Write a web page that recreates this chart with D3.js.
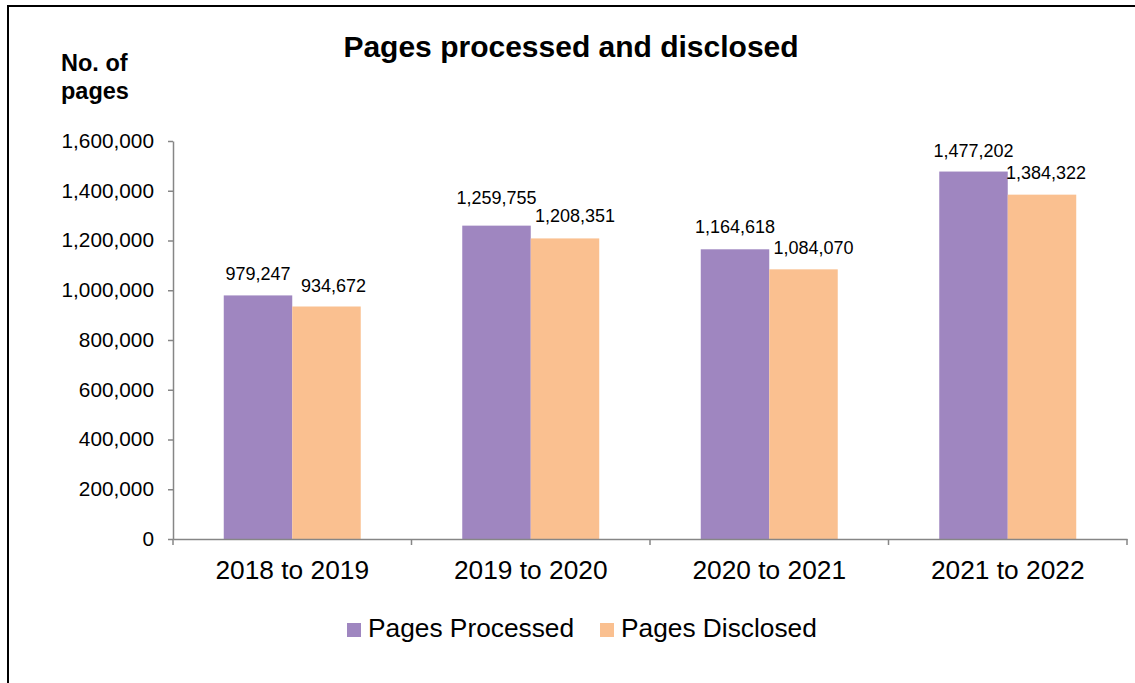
<!DOCTYPE html>
<html>
<head>
<meta charset="utf-8">
<script src="https://cdn.jsdelivr.net/npm/d3@7"></script>
<style>
  html, body { margin: 0; padding: 0; background: #fff; }
  svg { display: block; font-family: Arial, "Liberation Sans", sans-serif; }
</style>
</head>
<body>
<svg id="chart" width="1135" height="683"></svg>
<script>
// Reporting periods and page counts
const categories = ["2018 to 2019", "2019 to 2020", "2020 to 2021", "2021 to 2022"];
const seriesNames = ["Pages Processed", "Pages Disclosed"];
const pagesProcessed = [979247, 1259755, 1164618, 1477202];
const pagesDisclosed = [934672, 1208351, 1084070, 1384322];
const yTicks = [0, 200000, 400000, 600000, 800000, 1000000, 1200000, 1400000, 1600000];

// Small hand adjustments so neighbouring value labels don't collide
const labelShift = [
  [[0, -15], [7, -15]],
  [[0, -22], [10, -16]],
  [[0, -16], [10, -15]],
  [[0, -15], [4, -16]]
];

const colors = ["#9F86C0", "#FAC090"];
const axisColor = "#868686";

const svg = d3.select("#chart");

// Outer frame
svg.append("rect")
  .attr("x", 8).attr("y", 6)
  .attr("width", 1150).attr("height", 700)
  .attr("fill", "none").attr("stroke", "#000").attr("stroke-width", 2);

const plot = { left: 173, right: 1127, top: 141, bottom: 539 };

const x0 = d3.scaleBand().domain(categories).range([plot.left, plot.right]).padding(0);
const pad = x0.bandwidth() * 0.2128;
const x1 = d3.scaleBand().domain(seriesNames).range([pad, x0.bandwidth() - pad]).padding(0);
const y = d3.scaleLinear().domain([0, 1600000]).range([plot.bottom, plot.top]);

const fmt = d3.format(",");

const rows = categories.map((c, i) => ({
  cat: c,
  i,
  vals: [
    { name: seriesNames[0], v: pagesProcessed[i], s: 0 },
    { name: seriesNames[1], v: pagesDisclosed[i], s: 1 }
  ]
}));

// Bars
const groups = svg.append("g").selectAll("g")
  .data(rows).join("g")
  .attr("transform", d => `translate(${x0(d.cat)},0)`);

groups.selectAll("rect")
  .data(d => d.vals).join("rect")
  .attr("x", d => x1(d.name))
  .attr("y", d => y(d.v))
  .attr("width", x1.bandwidth())
  .attr("height", d => y(0) - y(d.v))
  .attr("fill", d => colors[d.s]);

// Value labels
groups.each(function (row) {
  d3.select(this).selectAll("text.val")
    .data(row.vals).join("text")
    .attr("class", "val")
    .attr("x", d => x1(d.name) + x1.bandwidth() / 2 + labelShift[row.i][d.s][0])
    .attr("y", d => y(d.v) + labelShift[row.i][d.s][1])
    .attr("text-anchor", "middle")
    .attr("font-size", "18px")
    .attr("fill", "#000")
    .text(d => fmt(d.v));
});

// Y axis
const yAxis = svg.append("g")
  .attr("transform", `translate(${plot.left},0)`)
  .call(d3.axisLeft(y).tickValues(yTicks).tickFormat(fmt).tickSize(5).tickSizeOuter(0).tickPadding(14));
yAxis.select(".domain").attr("stroke", axisColor).attr("stroke-width", 1.5);
yAxis.selectAll(".tick line").attr("stroke", axisColor).attr("stroke-width", 1.5);
yAxis.selectAll(".tick text")
  .attr("font-family", "Arial, 'Liberation Sans', sans-serif")
  .attr("font-size", "20.8px").attr("fill", "#000")
  .attr("dy", "0.3em");

// X axis
const xAxis = svg.append("g")
  .attr("transform", `translate(0,${plot.bottom})`)
  .call(d3.axisBottom(x0).tickSize(0).tickSizeOuter(0).tickPadding(0));
xAxis.select(".domain").attr("stroke", axisColor).attr("stroke-width", 1.5);
xAxis.selectAll(".tick text")
  .attr("font-family", "Arial, 'Liberation Sans', sans-serif")
  .attr("font-size", "26.3px").attr("fill", "#000")
  .attr("y", 40).attr("dy", 0);

// Tick marks between categories
const boundaries = categories.map(c => x0(c)).concat([plot.right]);
svg.append("g").selectAll("line")
  .data(boundaries).join("line")
  .attr("x1", d => d).attr("x2", d => d)
  .attr("y1", plot.bottom).attr("y2", plot.bottom + 6)
  .attr("stroke", axisColor).attr("stroke-width", 1.5);

// Title
svg.append("text")
  .attr("x", 571).attr("y", 57)
  .attr("text-anchor", "middle")
  .attr("font-size", "30px").attr("font-weight", "bold")
  .text("Pages processed and disclosed");

// Y axis title
const yTitle = svg.append("text")
  .attr("font-size", "23.5px").attr("font-weight", "bold");
yTitle.append("tspan").attr("x", 61).attr("y", 71).text("No. of");
yTitle.append("tspan").attr("x", 61).attr("y", 99).text("pages");

// Legend
const legendX = [347, 600];
const legend = svg.append("g").selectAll("g")
  .data(seriesNames).join("g")
  .attr("transform", (d, i) => `translate(${legendX[i]},623)`);
legend.append("rect")
  .attr("width", 14).attr("height", 14)
  .attr("fill", (d, i) => colors[i]);
legend.append("text")
  .attr("x", 21).attr("y", 14)
  .attr("font-size", "26.3px").attr("fill", "#000")
  .text(d => d);
</script>
</body>
</html>
